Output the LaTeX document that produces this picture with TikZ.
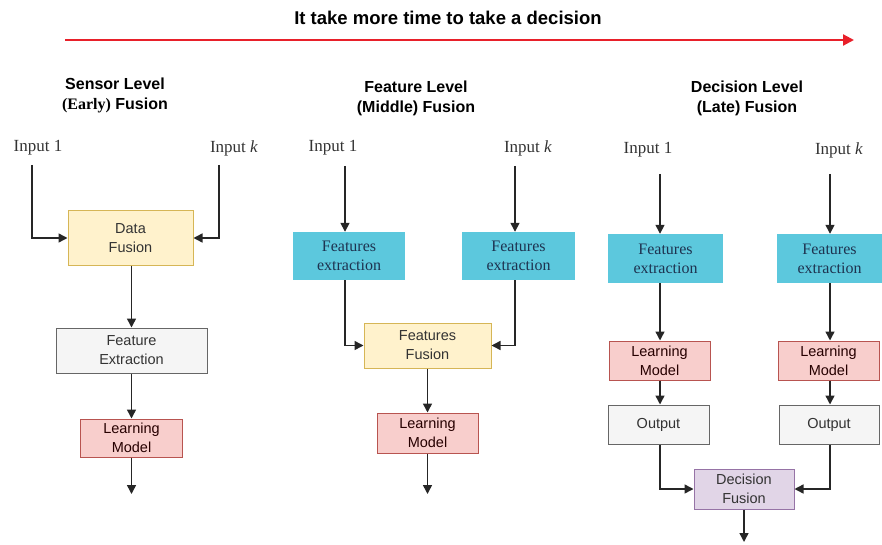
\documentclass[tikz,border=0pt]{standalone}
\usepackage{fontspec}
\setmainfont{Liberation Serif}
\setsansfont{Liberation Sans}
\usetikzlibrary{arrows.meta}

\definecolor{ylwfill}{HTML}{FFF2CC}
\definecolor{ylwline}{HTML}{D6B656}
\definecolor{pnkfill}{HTML}{F8CECC}
\definecolor{pnkline}{HTML}{B85450}
\definecolor{gryfill}{HTML}{F5F5F5}
\definecolor{gryline}{HTML}{666666}
\definecolor{prpfill}{HTML}{E1D5E7}
\definecolor{prpline}{HTML}{9673A6}
\definecolor{cyanfill}{HTML}{5CC8DD}
\definecolor{navytext}{HTML}{1E3350}
\definecolor{boxtext}{HTML}{333333}
\definecolor{timered}{HTML}{E8202A}

\tikzset{
  box/.style={draw, line width=1pt, inner sep=0pt, align=center, text=boxtext,
    font=\sffamily\fontsize{14.5}{19}\selectfont},
  yellowbox/.style={box, fill=ylwfill, draw=ylwline},
  pinkbox/.style={box, fill=pnkfill, draw=pnkline, text=black!75!red!60!black},
  greybox/.style={box, fill=gryfill, draw=gryline},
  purplebox/.style={box, fill=prpfill, draw=prpline},
  featbox/.style={inner sep=0pt, align=center, fill=cyanfill, text=navytext,
    font=\rmfamily\fontsize{16}{19}\selectfont},
  heading/.style={align=center, font=\sffamily\bfseries\fontsize{16}{20}\selectfont},
  inlabel/.style={inner sep=0pt, text=boxtext, font=\rmfamily\fontsize{17}{20}\selectfont},
  arr/.style={-{Triangle[length=9pt,width=9pt]}, line width=1.5pt, draw=black!85},
  link/.style={line width=1.5pt, draw=black!85}
}

\begin{document}
\begin{tikzpicture}[x=1pt, y=-1pt]
\useasboundingbox (0,0) rectangle (882,545);

% time axis
\node[font=\sffamily\bfseries\fontsize{18.5}{22}\selectfont] (ttl) at (448,18) {It take more time to take a decision};
\coordinate (axl) at (65,40);
\coordinate (axr) at (854,40);
\draw[line width=2.2pt, draw=timered, -{Triangle[length=11pt,width=11pt]}] (axl) -- (axr);

% ---------- sensor level (early) fusion ----------
\node[heading] (t1) at (115,95) {Sensor Level\\{\rmfamily (Early)} Fusion};
\node[inlabel] (in1a) at (38,148) {Input 1};
\node[inlabel] (in1b) at (234,148) {Input \textit{k}};
\coordinate (s1a) at (32,165);
\coordinate (s1b) at (219,165);

\node[yellowbox, minimum width=125pt, minimum height=54pt] (df) at (130.5,238) {Data\\Fusion};
\node[greybox, minimum width=151pt, minimum height=45pt] (fe) at (131.5,350.5) {Feature\\Extraction};
\node[pinkbox, minimum width=102pt, minimum height=38pt] (lm1) at (131.5,438) {Learning\\Model};
\coordinate (o1) at (131.5,494);

\draw[arr] (s1a) |- (df.west);
\draw[arr] (s1b) |- (df.east);
\draw[arr] (df.south -| fe.north) -- (fe.north);
\draw[arr] (fe.south) -- (lm1.north);
\draw[arr] (lm1.south) -- (o1);

% ---------- feature level (middle) fusion ----------
\node[heading] (t2) at (416,98) {Feature Level\\(Middle) Fusion};
\node[inlabel] (in2a) at (333,148) {Input 1};
\node[inlabel] (in2b) at (528,148) {Input \textit{k}};
\coordinate (s2a) at (345,166);
\coordinate (s2b) at (515,166);

\node[featbox, minimum width=112pt, minimum height=48pt] (fx2a) at (349,256) {Features\\extraction};
\node[featbox, minimum width=113pt, minimum height=48pt] (fx2b) at (518.5,256) {Features\\extraction};
\node[yellowbox, minimum width=127pt, minimum height=45pt] (ff) at (427.5,345.5) {Features\\Fusion};
\node[pinkbox, minimum width=101pt, minimum height=40pt] (lm2) at (427.5,433) {Learning\\Model};
\coordinate (o2) at (427.5,494);

\draw[arr] (s2a) -- (s2a |- fx2a.north);
\draw[arr] (s2b) -- (s2b |- fx2b.north);
\draw[arr] (s2a |- fx2a.south) |- (ff.west);
\draw[arr] (s2b |- fx2b.south) |- (ff.east);
\draw[arr] (ff.south) -- (lm2.north);
\draw[arr] (lm2.south) -- (o2);

% ---------- decision level (late) fusion ----------
\node[heading] (t3) at (747,98) {Decision Level\\(Late) Fusion};
\node[inlabel] (in3a) at (648,150) {Input 1};
\node[inlabel] (in3b) at (839,150) {Input \textit{k}};
\coordinate (s3a) at (660,174);
\coordinate (s3b) at (830,174);

\node[featbox, minimum width=115pt, minimum height=49pt] (fx3a) at (665.5,258.5) {Features\\extraction};
\node[featbox, minimum width=105pt, minimum height=49pt] (fx3b) at (829.5,258.5) {Features\\extraction};
\node[pinkbox, minimum width=101pt, minimum height=39pt] (lm3a) at (659.5,360.5) {Learning\\Model};
\node[pinkbox, minimum width=101pt, minimum height=39pt] (lm3b) at (828.5,360.5) {Learning\\Model};
\node[greybox, minimum width=101pt, minimum height=39pt] (out3a) at (658.5,424.5) {Output};
\node[greybox, minimum width=100pt, minimum height=39pt] (out3b) at (829,424.5) {Output};
\node[purplebox, minimum width=100pt, minimum height=40pt] (dfu) at (744,489) {Decision\\Fusion};
\coordinate (o3) at (744,542);

\draw[arr] (s3a) -- (s3a |- fx3a.north);
\draw[arr] (s3b) -- (s3b |- fx3b.north);
\draw[arr] (s3a |- fx3a.south) -- (s3a |- lm3a.north);
\draw[arr] (s3b |- fx3b.south) -- (s3b |- lm3b.north);
\draw[arr] (s3a |- lm3a.south) -- (s3a |- out3a.north);
\draw[arr] (s3b |- lm3b.south) -- (s3b |- out3b.north);
\draw[arr] (s3a |- out3a.south) |- (dfu.west);
\draw[arr] (s3b |- out3b.south) |- (dfu.east);
\draw[arr] (dfu.south) -- (o3);
\end{tikzpicture}
\end{document}
